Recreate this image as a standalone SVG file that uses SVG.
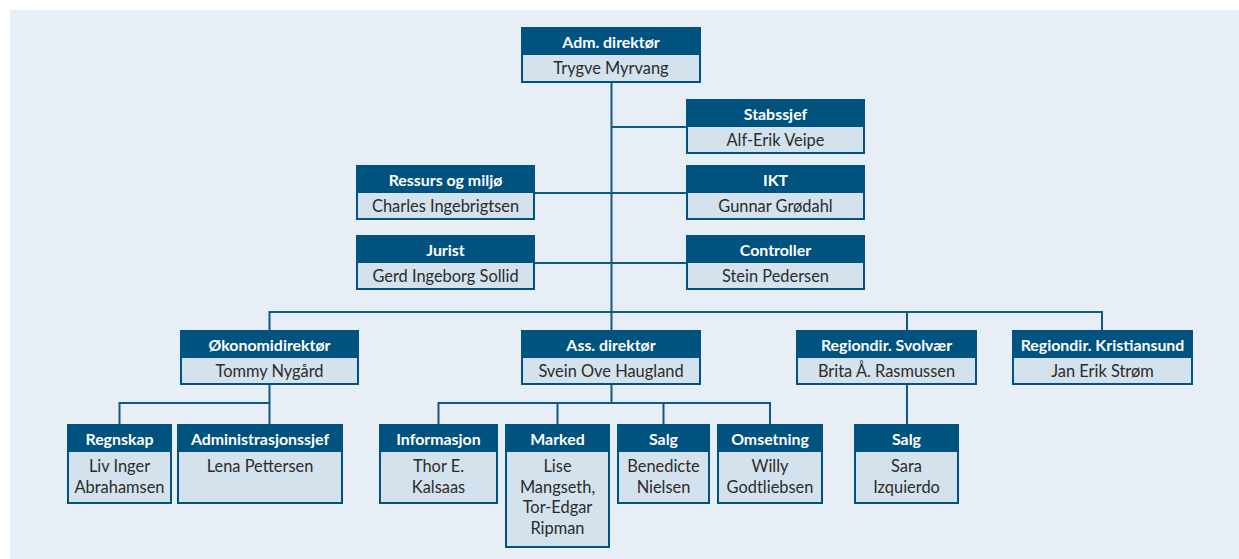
<svg xmlns="http://www.w3.org/2000/svg" width="1239" height="559" viewBox="0 0 1239 559">
<style>
.hd{fill:#00527f;stroke:#00527f;stroke-width:2}
.bd{fill:#d3e2ed;stroke:#00527f;stroke-width:2}
.ht{font-family:Lato,"Liberation Sans",sans-serif;font-weight:bold;font-size:15.9px;fill:#ffffff;text-anchor:middle}
.bt{font-family:Lato,"Liberation Sans",sans-serif;font-size:16.4px;fill:#2b2b2b;text-anchor:middle}
.cn{fill:none;stroke:#0e5a85;stroke-width:2}
</style>
<rect x="0" y="0" width="1239" height="559" fill="#ffffff"/>
<rect x="10" y="10" width="1229" height="549" fill="#e7eef6"/>
<g id="connectors">
<path class="cn" d="M611.5 82V331"/>
<path class="cn" d="M611.5 127H687"/>
<path class="cn" d="M534 193H687"/>
<path class="cn" d="M534 263H687"/>
<path class="cn" d="M269.5 331V312H1102V331"/>
<path class="cn" d="M907 312V331"/>
<path class="cn" d="M269.5 384V425M119.5 425V403H269.5"/>
<path class="cn" d="M611.5 384V403M438.5 425V403H770V425M557.5 403V425M663.5 403V425"/>
<path class="cn" d="M907 384V425"/>
</g>
<g id="adm"><rect class="bd" x="522" y="54" width="178" height="28"/><rect class="hd" x="522" y="28" width="178" height="26"/><text class="ht" x="611" y="47.5">Adm. direktør</text><text class="bt" x="611" y="73.5">Trygve Myrvang</text></g>
<g id="stabssjef"><rect class="bd" x="687" y="126" width="177" height="27"/><rect class="hd" x="687" y="100" width="177" height="26"/><text class="ht" x="775.5" y="119.5">Stabssjef</text><text class="bt" x="775.5" y="145.5">Alf-Erik Veipe</text></g>
<g id="ressurs"><rect class="bd" x="357" y="192" width="177" height="27"/><rect class="hd" x="357" y="166" width="177" height="26"/><text class="ht" x="445.5" y="185.5">Ressurs og miljø</text><text class="bt" x="445.5" y="211.5">Charles Ingebrigtsen</text></g>
<g id="ikt"><rect class="bd" x="687" y="192" width="177" height="27"/><rect class="hd" x="687" y="166" width="177" height="26"/><text class="ht" x="775.5" y="185.5">IKT</text><text class="bt" x="775.5" y="211.5">Gunnar Grødahl</text></g>
<g id="jurist"><rect class="bd" x="357" y="262" width="177" height="27"/><rect class="hd" x="357" y="236" width="177" height="26"/><text class="ht" x="445.5" y="255.5">Jurist</text><text class="bt" x="445.5" y="281.5">Gerd Ingeborg Sollid</text></g>
<g id="controller"><rect class="bd" x="687" y="262" width="177" height="27"/><rect class="hd" x="687" y="236" width="177" height="26"/><text class="ht" x="775.5" y="255.5">Controller</text><text class="bt" x="775.5" y="281.5">Stein Pedersen</text></g>
<g id="okonomi"><rect class="bd" x="181" y="357" width="177" height="27"/><rect class="hd" x="181" y="331" width="177" height="26"/><text class="ht" x="269.5" y="350.5">Økonomidirektør</text><text class="bt" x="269.5" y="376.5">Tommy Nygård</text></g>
<g id="ass"><rect class="bd" x="522" y="357" width="178" height="27"/><rect class="hd" x="522" y="331" width="178" height="26"/><text class="ht" x="611" y="350.5">Ass. direktør</text><text class="bt" x="611" y="376.5">Svein Ove Haugland</text></g>
<g id="svolvaer"><rect class="bd" x="797" y="357" width="179" height="27"/><rect class="hd" x="797" y="331" width="179" height="26"/><text class="ht" x="886.5" y="350.5">Regiondir. Svolvær</text><text class="bt" x="886.5" y="376.5">Brita Å. Rasmussen</text></g>
<g id="kristiansund"><rect class="bd" x="1013" y="357" width="179" height="27"/><rect class="hd" x="1013" y="331" width="179" height="26"/><text class="ht" x="1102.5" y="350.5">Regiondir. Kristiansund</text><text class="bt" x="1102.5" y="376.5">Jan Erik Strøm</text></g>
<g id="regnskap"><rect class="bd" x="68" y="451" width="103" height="52"/><rect class="hd" x="68" y="425" width="103" height="26"/><text class="ht" x="119.5" y="444.5">Regnskap</text><text class="bt" x="119.5" y="472">Liv Inger</text><text class="bt" x="119.5" y="492.5">Abrahamsen</text></g>
<g id="admsjef"><rect class="bd" x="178" y="451" width="164" height="52"/><rect class="hd" x="178" y="425" width="164" height="26"/><text class="ht" x="260" y="444.5">Administrasjonssjef</text><text class="bt" x="260" y="472">Lena Pettersen</text></g>
<g id="informasjon"><rect class="bd" x="380" y="451" width="117" height="52"/><rect class="hd" x="380" y="425" width="117" height="26"/><text class="ht" x="438.5" y="444.5">Informasjon</text><text class="bt" x="438.5" y="472">Thor E.</text><text class="bt" x="438.5" y="492.5">Kalsaas</text></g>
<g id="marked"><rect class="bd" x="506" y="451" width="103" height="96"/><rect class="hd" x="506" y="425" width="103" height="26"/><text class="ht" x="557.5" y="444.5">Marked</text><text class="bt" x="557.5" y="472">Lise</text><text class="bt" x="557.5" y="492.5">Mangseth,</text><text class="bt" x="557.5" y="513">Tor-Edgar</text><text class="bt" x="557.5" y="533.5">Ripman</text></g>
<g id="salg1"><rect class="bd" x="618" y="451" width="91" height="52"/><rect class="hd" x="618" y="425" width="91" height="26"/><text class="ht" x="663.5" y="444.5">Salg</text><text class="bt" x="663.5" y="472">Benedicte</text><text class="bt" x="663.5" y="492.5">Nielsen</text></g>
<g id="omsetning"><rect class="bd" x="718" y="451" width="104" height="52"/><rect class="hd" x="718" y="425" width="104" height="26"/><text class="ht" x="770" y="444.5">Omsetning</text><text class="bt" x="770" y="472">Willy</text><text class="bt" x="770" y="492.5">Godtliebsen</text></g>
<g id="salg2"><rect class="bd" x="855" y="451" width="103" height="52"/><rect class="hd" x="855" y="425" width="103" height="26"/><text class="ht" x="906.5" y="444.5">Salg</text><text class="bt" x="906.5" y="472">Sara</text><text class="bt" x="906.5" y="492.5">Izquierdo</text></g>
</svg>
